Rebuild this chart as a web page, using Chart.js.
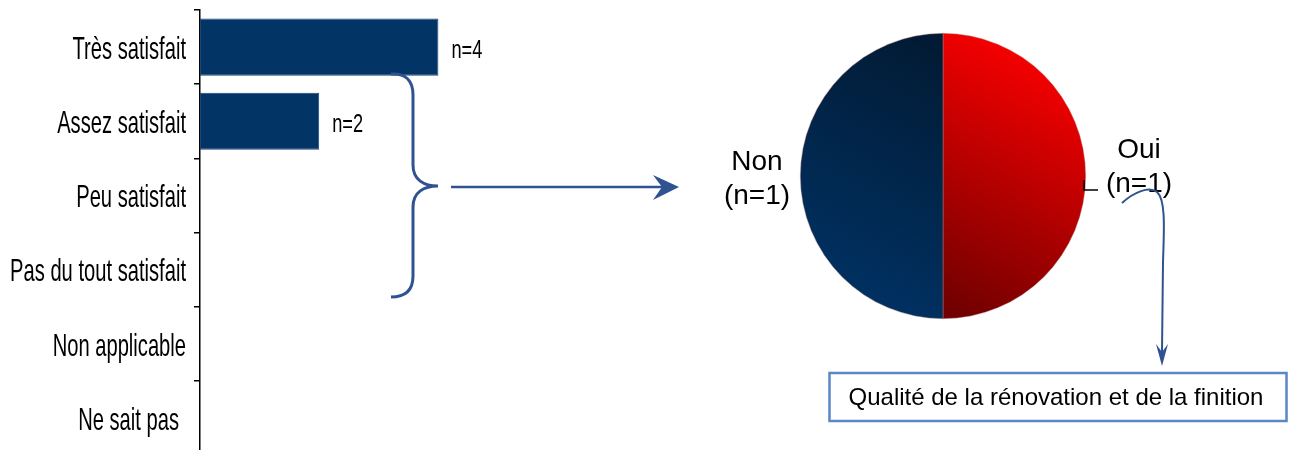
<!DOCTYPE html>
<html>
<head>
<meta charset="utf-8">
<script src="https://cdn.jsdelivr.net/npm/chart.js@4.4.1/dist/chart.umd.min.js"></script>
<style>
  html, body { margin: 0; padding: 0; background: #ffffff; overflow: hidden; }
  #wrap { position: relative; width: 1295px; height: 450px; overflow: hidden; }
  #barBox { position: absolute; left: 0; top: 0; width: 1295px; height: 470px; }
  #pieBox { position: absolute; left: 0; top: 0; width: 1295px; height: 450px; }
</style>
</head>
<body>
<div id="wrap">
  <div id="barBox"><canvas id="bar"></canvas></div>
  <div id="pieBox"><canvas id="pie"></canvas></div>
</div>
<script>
// ---- data ----
const categories = ['Très satisfait', 'Assez satisfait', 'Peu satisfait', 'Pas du tout satisfait', 'Non applicable', 'Ne sait pas'];
const counts = [4, 2, 0, 0, 0, 0];
const countLabels = ['n=4', 'n=2', '', '', '', ''];
const pieLabels = ['Oui', 'Non'];
const pieValues = [1, 1];
const pieCountLabels = ['(n=1)', '(n=1)'];
const boxTitle = 'Qualité de la rénovation et de la finition';

const ACCENT = '#2F5391';
const FONT = "'Liberation Sans', Arial, sans-serif";

// ---- bar chart ----
const barPlugin = {
  id: 'barDecor',
  afterDraw(chart) {
    const ctx = chart.ctx;
    const ys = chart.scales.y;
    // category labels (condensed)
    ctx.save();
    ctx.fillStyle = '#000';
    ctx.font = '32px ' + FONT;
    ctx.textAlign = 'right';
    ctx.textBaseline = 'middle';
    categories.forEach((c, i) => {
      const y = ys.getPixelForValue(i);
      ctx.save();
      ctx.translate(i === categories.length - 1 ? 179 : 186, y + 3);
      ctx.scale(0.63, 1);
      ctx.fillText(c, 0, 0);
      ctx.restore();
    });
    ctx.restore();
    // value labels
    const meta = chart.getDatasetMeta(0);
    ctx.save();
    ctx.fillStyle = '#000';
    ctx.font = '26px ' + FONT;
    ctx.textAlign = 'left';
    ctx.textBaseline = 'middle';
    meta.data.forEach((bar, i) => {
      if (!countLabels[i]) return;
      ctx.save();
      ctx.translate(bar.x + 13, bar.y + 4);
      ctx.scale(0.7, 1);
      ctx.fillText(countLabels[i], 0, 0);
      ctx.restore();
    });
    ctx.restore();
    // curly brace
    ctx.save();
    ctx.strokeStyle = ACCENT;
    ctx.lineWidth = 3;
    ctx.lineCap = 'butt';
    ctx.beginPath();
    ctx.moveTo(391, 74);
    ctx.bezierCurveTo(405, 73, 413, 80, 413, 95);
    ctx.lineTo(413, 165);
    ctx.bezierCurveTo(413, 180, 424, 186, 438, 186);
    ctx.bezierCurveTo(424, 186, 413, 192, 413, 207);
    ctx.lineTo(413, 276);
    ctx.bezierCurveTo(413, 291, 405, 297, 391, 297);
    ctx.stroke();
    // horizontal arrow
    ctx.lineWidth = 2.5;
    ctx.beginPath();
    ctx.moveTo(451, 187);
    ctx.lineTo(665, 187);
    ctx.stroke();
    ctx.fillStyle = ACCENT;
    ctx.beginPath();
    ctx.moveTo(679, 187);
    ctx.lineTo(653, 175);
    ctx.lineTo(662, 187);
    ctx.lineTo(653, 200);
    ctx.closePath();
    ctx.fill();
    ctx.restore();
  }
};

new Chart(document.getElementById('bar'), {
  type: 'bar',
  data: {
    labels: categories,
    datasets: [{
      data: counts,
      backgroundColor: '#033466',
      borderColor: '#1d4675',
      borderWidth: 1,
      borderSkipped: false,
      barPercentage: 0.77,
      categoryPercentage: 1
    }]
  },
  options: {
    indexAxis: 'y',
    responsive: true,
    maintainAspectRatio: false,
    animation: false,
    layout: { padding: { left: 0, top: 10, bottom: 15, right: 797 } },
    plugins: { legend: { display: false }, tooltip: { enabled: false } },
    scales: {
      x: { display: false, min: 0, max: 5 },
      y: {
        position: 'left',
        afterFit(axis) { axis.width = 200; },
        ticks: { display: false },
        grid: { drawOnChartArea: false, drawTicks: true, tickLength: 6, color: '#000', lineWidth: 1.5, offset: true },
        border: { display: true, color: '#000', width: 1.5 }
      }
    }
  },
  plugins: [barPlugin]
});

// ---- pie chart ----
function pieFill(context) {
  const chart = context.chart;
  const area = chart.chartArea;
  if (!area) return context.dataIndex === 0 ? '#d00000' : '#022a55';
  const c = chart.ctx;
  if (context.dataIndex === 0) {
    const g = c.createLinearGradient(1075, 60, 945, 305);
    g.addColorStop(0, '#ff0000');
    g.addColorStop(1, '#720000');
    return g;
  } else {
    const g = c.createLinearGradient(940, 40, 808, 300);
    g.addColorStop(0, '#021a33');
    g.addColorStop(1, '#003366');
    return g;
  }
}

const piePlugin = {
  id: 'pieDecor',
  afterDraw(chart) {
    const ctx = chart.ctx;
    ctx.save();
    ctx.fillStyle = '#000';
    ctx.font = '28px ' + FONT;
    ctx.textAlign = 'center';
    ctx.textBaseline = 'alphabetic';
    // Oui (index 0), Non (index 1)
    ctx.fillText(pieLabels[0], 1139, 158);
    ctx.fillText(pieCountLabels[0], 1139, 192);
    ctx.fillText(pieLabels[1], 757, 170);
    ctx.fillText(pieCountLabels[1], 757, 204);
    // small leader
    ctx.strokeStyle = '#000';
    ctx.lineWidth = 1.5;
    ctx.beginPath();
    ctx.moveTo(1084, 180);
    ctx.lineTo(1084, 190);
    ctx.lineTo(1098, 190);
    ctx.stroke();
    // curved arrow
    ctx.strokeStyle = ACCENT;
    ctx.lineWidth = 2;
    ctx.beginPath();
    ctx.moveTo(1122, 203);
    ctx.bezierCurveTo(1134, 192, 1149, 186, 1157, 192);
    ctx.bezierCurveTo(1166, 200, 1164, 230, 1163, 262);
    ctx.lineTo(1162, 352);
    ctx.stroke();
    ctx.fillStyle = ACCENT;
    ctx.beginPath();
    ctx.moveTo(1162, 366);
    ctx.lineTo(1156, 344);
    ctx.lineTo(1162, 352);
    ctx.lineTo(1168, 344);
    ctx.closePath();
    ctx.fill();
    // box
    ctx.strokeStyle = '#5A87C6';
    ctx.lineWidth = 2.5;
    ctx.strokeRect(829.5, 373, 457, 48);
    ctx.fillStyle = '#000';
    ctx.font = '24px ' + FONT;
    ctx.textAlign = 'center';
    ctx.fillText(boxTitle, 1056, 405);
    ctx.restore();
  }
};

new Chart(document.getElementById('pie'), {
  type: 'pie',
  data: {
    labels: pieLabels,
    datasets: [{
      data: pieValues,
      backgroundColor: pieFill,
      borderWidth: 0.6,
      borderColor: 'rgba(190,140,140,0.7)'
    }]
  },
  options: {
    responsive: true,
    maintainAspectRatio: false,
    animation: false,
    layout: { padding: { left: 800, right: 209, top: 32, bottom: 130 } },
    plugins: { legend: { display: false }, tooltip: { enabled: false } }
  },
  plugins: [piePlugin]
});
</script>
</body>
</html>
